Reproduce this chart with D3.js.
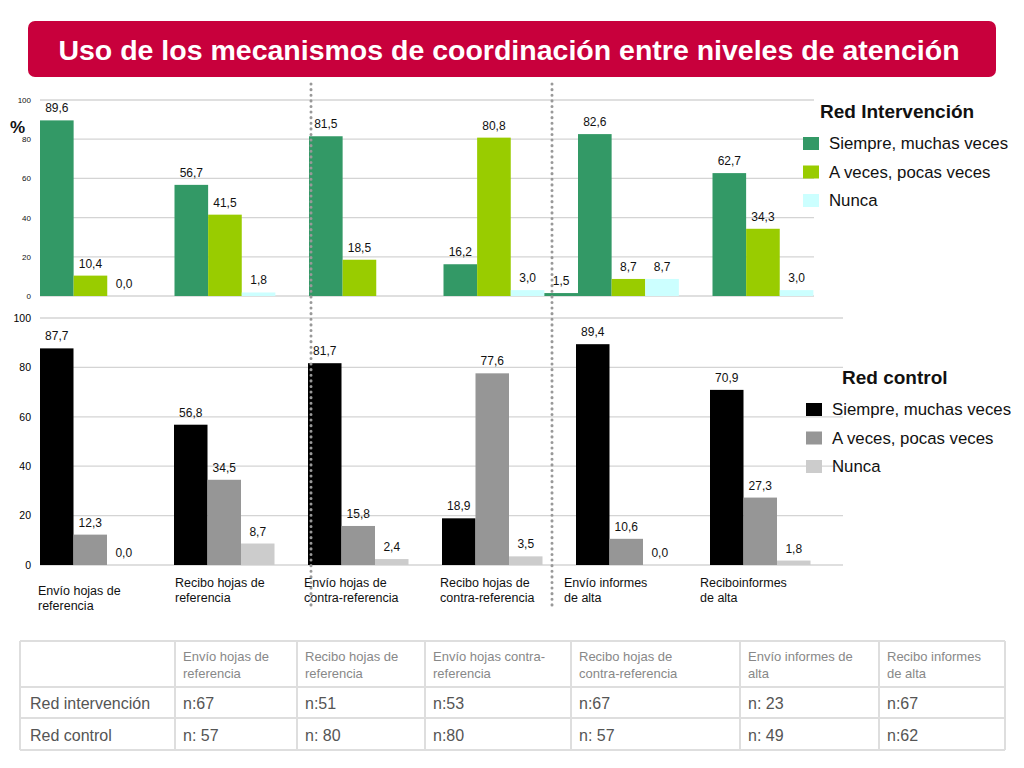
<!DOCTYPE html>
<html>
<head>
<meta charset="utf-8">
<script src="https://cdn.jsdelivr.net/npm/d3@7"></script>
<style>
  body { margin: 0; background: #fff; }
  svg { display: block; font-family: "Liberation Sans", Arial, sans-serif; }
</style>
</head>
<body>
<div id="chart"></div>
<script>
var w = 1024,
h = 768;

// data
var categories = ['Envío hojas de referencia', 'Recibo hojas de referencia', 'Envío hojas de contra-referencia',
  'Recibo hojas de contra-referencia', 'Envío informes de alta', 'Reciboinformes de alta'];
var catLines = [['Envío hojas de', 'referencia'], ['Recibo hojas de', 'referencia'], ['Envío hojas de', 'contra-referencia'],
  ['Recibo hojas de', 'contra-referencia'], ['Envío informes', 'de alta'], ['Reciboinformes', 'de alta']];
var seriesNames = ['Siempre, muchas veces', 'A veces, pocas veces', 'Nunca'];

var intSiempre = [89.6, 56.7, 81.5, 16.2, 82.6, 62.7];
var intAveces = [10.4, 41.5, 18.5, 80.8, 8.7, 34.3];
var intNunca = [0.0, 1.8, null, 3.0, 8.7, 3.0];
var intExtra = [null, null, null, 1.5, null, null];

var ctlSiempre = [87.7, 56.8, 81.7, 18.9, 89.4, 70.9];
var ctlAveces = [12.3, 34.5, 15.8, 77.6, 10.6, 27.3];
var ctlNunca = [0.0, 8.7, 2.4, 3.5, 0.0, 1.8];

var yTicks = [0, 20, 40, 60, 80, 100];

var tableHeader = [['Envío hojas de', 'referencia'], ['Recibo hojas de', 'referencia'], ['Envío hojas contra-', 'referencia'],
  ['Recibo hojas de', 'contra-referencia'], ['Envío informes de', 'alta'], ['Recibo informes', 'de alta']];
var rowNames = ['Red intervención', 'Red control'];
var nInt = ['n:67', 'n:51', 'n:53', 'n:67', 'n: 23', 'n:67'];
var nCtl = ['n: 57', 'n: 80', 'n:80', 'n: 57', 'n: 49', 'n:62'];

var fmt = function (v) { return v.toFixed(1).replace('.', ','); };

var svg = d3.select('#chart').append('svg').attr('width', w).attr('height', h);

// title banner
svg.append('rect').
attr('x', 28).attr('y', 21).attr('width', 968).attr('height', 56).
attr('rx', 7).attr('fill', '#c8003c');
svg.append('text').
attr('x', 509).attr('y', 60).attr('text-anchor', 'middle').
attr('fill', '#fff').attr('font-size', 28.5).attr('font-weight', 'bold').
text('Uso de los mecanismos de coordinación entre niveles de atención');

function drawPanel(opts) {
  var x = d3.scaleBand().domain(categories).range(opts.xRange);
  var slot = d3.scaleBand().domain([0, 1, 2, 3]).range([0, x.bandwidth()]);
  var y = d3.scaleLinear().domain([0, 100]).range(opts.yRange);
  var g = svg.append('g');

  g.selectAll('line.grid').data(yTicks).enter().append('line').
  attr('class', 'grid').
  attr('x1', opts.xRange[0]).attr('x2', opts.gridEnd).
  attr('y1', d => y(d)).attr('y2', d => y(d)).
  attr('stroke', '#d4d4d4').attr('stroke-width', 1.3);

  var ax = g.append('g').
  attr('transform', 'translate(34,0)').
  call(d3.axisLeft(y).tickValues(yTicks).tickSize(0).tickPadding(3));
  ax.select('.domain').remove();
  ax.selectAll('text').
  attr('font-size', opts.tickSize).attr('fill', opts.tickColor).
  attr('font-family', '"Liberation Sans", Arial, sans-serif');

  opts.series.forEach(function (s) {
    var data = s.values.map((v, i) => ({ cat: categories[i], v: v })).filter(d => d.v !== null);
    g.selectAll(null).data(data).enter().append('rect').
    attr('x', d => x(d.cat) + slot(s.slot)).
    attr('width', slot.bandwidth()).
    attr('y', d => y(d.v)).
    attr('height', d => y(0) - y(d.v)).
    attr('fill', s.color);
    g.selectAll(null).data(data).enter().append('text').
    attr('x', d => x(d.cat) + slot(s.slot) + slot.bandwidth() / 2).
    attr('y', d => y(d.v) - 8).
    attr('text-anchor', 'middle').attr('font-size', 12).attr('fill', '#111').
    text(d => fmt(d.v));
  });

  // legend
  var lg = svg.append('g');
  lg.append('text').attr('x', opts.legend.titleX).attr('y', opts.legend.titleY).
  attr('font-size', 19).attr('font-weight', 'bold').attr('fill', '#111').
  text(opts.legend.title);
  seriesNames.forEach(function (name, i) {
    var yy = opts.legend.y0 + i * opts.legend.dy;
    lg.append('rect').attr('x', opts.legend.boxX).attr('y', yy - 6).
    attr('width', 16).attr('height', 13).attr('fill', opts.series[i].color);
    lg.append('text').attr('x', opts.legend.boxX + 26).attr('y', yy + 6).
    attr('font-size', 16.8).attr('fill', '#111').text(name);
  });
  return x;
}

drawPanel({
  xRange: [40, 847],
  yRange: [296, 100],
  gridEnd: 814,
  tickSize: 8,
  tickColor: '#111',
  series: [
  { values: intSiempre, color: '#339966', slot: 0 },
  { values: intAveces, color: '#99cc00', slot: 1 },
  { values: intNunca, color: '#ccffff', slot: 2 },
  { values: intExtra, color: '#339966', slot: 3 }],

  legend: { title: 'Red Intervención', titleX: 820, titleY: 118, boxX: 803, y0: 143, dy: 28.5 }
});

var xb = drawPanel({
  xRange: [40, 844],
  yRange: [565, 318],
  gridEnd: 843,
  tickSize: 10.5,
  tickColor: '#000',
  series: [
  { values: ctlSiempre, color: '#000000', slot: 0 },
  { values: ctlAveces, color: '#969696', slot: 1 },
  { values: ctlNunca, color: '#cccccc', slot: 2 }],

  legend: { title: 'Red control', titleX: 842, titleY: 384, boxX: 806, y0: 409, dy: 28.5 }
});

svg.append('text').attr('x', 10).attr('y', 133).
attr('font-size', 17).attr('font-weight', 'bold').attr('fill', '#111').text('%');

// category labels under bottom panel
var labelOffsets = [[-2, 8], [1, 0], [-4, 0], [-2, 0], [-12, 0], [-10, 0]];
catLines.forEach(function (lines, i) {
  var t = svg.append('text').attr('font-size', 12.5).attr('fill', '#111');
  lines.forEach(function (ln, j) {
    t.append('tspan').
    attr('x', xb(categories[i]) + labelOffsets[i][0]).
    attr('y', 587 + labelOffsets[i][1] + j * 15).
    text(ln);
  });
});

// dotted separators
[311, 552].forEach(function (xx) {
  svg.append('line').attr('x1', xx).attr('x2', xx).attr('y1', 84).attr('y2', 606).
  attr('stroke', '#999').attr('stroke-width', 3).
  attr('stroke-dasharray', '0.1 5.5').attr('stroke-linecap', 'round');
});

// table of n
var colX = [20, 175, 297, 425, 571, 740, 879, 1005];
var rowY = [641, 687, 718, 750];
var tg = svg.append('g');
rowY.forEach(function (yy) {
  tg.append('line').attr('x1', colX[0]).attr('x2', colX[7]).attr('y1', yy).attr('y2', yy).
  attr('stroke', '#dedede').attr('stroke-width', 2);
});
colX.forEach(function (xx) {
  tg.append('line').attr('x1', xx).attr('x2', xx).attr('y1', rowY[0]).attr('y2', rowY[3]).
  attr('stroke', '#dedede').attr('stroke-width', 2);
});
tableHeader.forEach(function (lines, i) {
  var t = tg.append('text').attr('font-size', 13).attr('fill', '#888');
  lines.forEach(function (ln, j) {
    t.append('tspan').attr('x', colX[i + 1] + 8).attr('y', 661 + j * 17).text(ln);
  });
});
[nInt, nCtl].forEach(function (row, r) {
  var yy = 709 + r * 32;
  tg.append('text').attr('x', colX[0] + 10).attr('y', yy).
  attr('font-size', 16).attr('fill', '#555').text(rowNames[r]);
  row.forEach(function (v, i) {
    tg.append('text').attr('x', colX[i + 1] + 8).attr('y', yy).
    attr('font-size', 16).attr('fill', '#555').text(v);
  });
});
</script>
</body>
</html>
